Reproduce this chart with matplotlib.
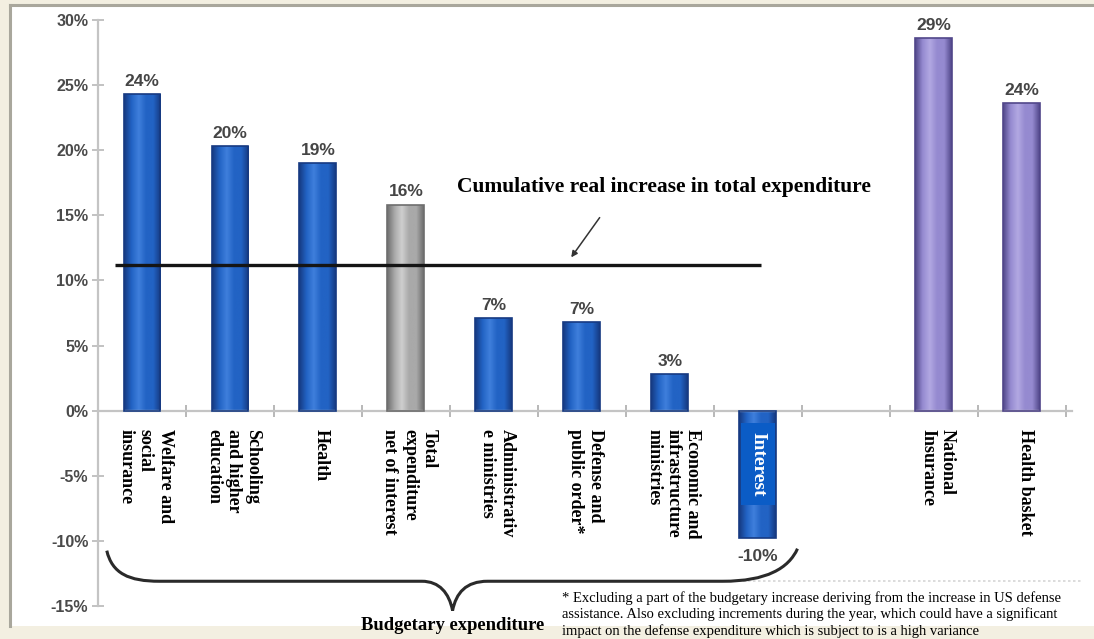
import numpy as np
import matplotlib
matplotlib.use("Agg")
import matplotlib.pyplot as plt
from matplotlib.patches import Rectangle, PathPatch
from matplotlib.path import Path
from matplotlib.colors import LinearSegmentedColormap

# ---- data -------------------------------------------------------------
categories = [
    "Welfare and\nsocial\ninsurance",
    "Schooling\nand higher\neducation",
    "Health",
    "Total\nexpenditure\nnet of interest",
    "Administrativ\ne ministries",
    "Defense and\npublic order*",
    "Economic and\ninfrastructure\nministries",
    "Interest",
    "National\nInsurance",
    "Health basket",
]
slots = [0, 1, 2, 3, 4, 5, 6, 7, 9, 10]
values = [24.3, 20.3, 19.0, 15.8, 7.1, 6.8, 2.8, -9.8, 28.6, 23.6]
groups = ["budget", "budget", "budget", "total", "budget", "budget",
          "budget", "budget", "health", "health"]
cumulative_increase = 11.2
y_ticks = [30, 25, 20, 15, 10, 5, 0, -5, -10, -15]

footnote = ("* Excluding a part of the budgetary increase deriving from the increase in US defense\n"
            "assistance. Also excluding increments during the year, which could have a significant\n"
            "impact on the defense expenditure which is subject to is a high variance")

# ---- styles -----------------------------------------------------------
palette = {
    "budget": ("#163a82", "#2263c4", "#3f7fdc"),
    "total": ("#6e6e6e", "#a9a9a9", "#cfcfcf"),
    "health": ("#51478a", "#958ad0", "#b2a8e2"),
}
serif = "Liberation Serif"
sans = "Liberation Sans"

W, H = 1094, 639
fig = plt.figure(figsize=(W / 100, H / 100), dpi=100)
fig.patch.set_facecolor("#f3efe1")

# white panel with thin grey frame
fig.patches.append(Rectangle((11 / W, 1 - 626 / H), (W - 11) / W, 621 / H,
                             transform=fig.transFigure, facecolor="white",
                             edgecolor="none", zorder=-10))
fig.lines.append(plt.Line2D([10 / W, 10 / W], [1 - 5 / H, 1 - 626 / H],
                            transform=fig.transFigure, color="#a9a79c", lw=2.2))
fig.lines.append(plt.Line2D([10 / W, 1], [1 - 5 / H, 1 - 5 / H],
                            transform=fig.transFigure, color="#a9a79c", lw=2.2))

ax = fig.add_axes([98 / W, 33 / H, (1072 - 98) / W, (606 - 20) / H])
ax.set_facecolor("none")

width = 0.42
bars = ax.bar(slots, values, width=width, color="none", zorder=3)
for bar, grp in zip(bars, groups):
    dark, mid, light = palette[grp]
    cmap = LinearSegmentedColormap.from_list(
        "g", [dark, mid, light, mid, mid, dark])
    x0, y0 = bar.get_x(), bar.get_y()
    w, h = bar.get_width(), bar.get_height()
    grad = np.linspace(0, 1, 64)[None, :]
    im = ax.imshow(grad, cmap=cmap, aspect="auto", zorder=2,
                   extent=[x0, x0 + w, min(y0, y0 + h), max(y0, y0 + h)])
    im.set_clip_path(bar)
    bar.set_edgecolor(dark)
    bar.set_linewidth(1.2)

# value labels
for s, v in zip(slots, values):
    txt = f"{round(v):.0f}%"
    if v >= 0:
        ax.annotate(txt, (s, v), xytext=(0, 4), textcoords="offset points",
                    ha="center", va="bottom", fontsize=12.5, family=sans,
                    weight="bold", color="#454545", zorder=6)
    else:
        ax.annotate(txt, (s, v), xytext=(0, -8), textcoords="offset points",
                    ha="center", va="top", fontsize=12.5, family=sans,
                    weight="bold", color="#454545", zorder=6)

# category labels, reading downward under the axis
for s, lab in zip(slots, categories):
    if lab == "Interest":
        ax.annotate(lab, (s, 0), xytext=(0, -15), textcoords="offset points",
                    rotation=270, ha="center", va="top", fontsize=14,
                    family=serif, weight="bold", color="white", zorder=7,
                    bbox=dict(boxstyle="square,pad=0.45", fc="#0b5cc6", ec="none"))
    else:
        ax.annotate(lab, (s, 0), xytext=(2.5, -13), textcoords="offset points",
                    rotation=270, ha="center", va="top", multialignment="left",
                    fontsize=13, family=serif, weight="bold", color="black",
                    linespacing=1.2, zorder=6)

# cumulative increase reference line
ax.plot([-0.31, 7.03], [cumulative_increase, cumulative_increase],
        color="#151515", lw=2.4, zorder=4, solid_capstyle="butt")
ax.annotate("", xy=(4.86, cumulative_increase + 0.4), xytext=(5.22, 15.0),
            arrowprops=dict(arrowstyle="-|>", color="#333333", lw=1.1,
                            mutation_scale=9), zorder=5)
ax.text(5.93, 17.2, "Cumulative real increase in total expenditure",
        ha="center", va="center", fontsize=15.5, family=serif, weight="bold")

# curly brace spanning the budget items
def brace(x_left, x_right, x_tip, y_top, y_mid, y_tip):
    verts = [
        (x_left, y_top),
        (x_left + 0.06, y_mid + 0.6), (x_left + 0.25, y_mid), (x_left + 0.6, y_mid),
        (x_tip - 0.35, y_mid),
        (x_tip - 0.15, y_mid), (x_tip - 0.04, y_mid - 0.9), (x_tip, y_tip),
        (x_tip + 0.04, y_mid - 0.9), (x_tip + 0.15, y_mid), (x_tip + 0.4, y_mid),
        (x_right - 0.85, y_mid),
        (x_right - 0.35, y_mid), (x_right - 0.1, y_mid + 1.0), (x_right, y_top + 0.15),
    ]
    codes = [Path.MOVETO,
             Path.CURVE4, Path.CURVE4, Path.CURVE4,
             Path.LINETO,
             Path.CURVE4, Path.CURVE4, Path.CURVE4,
             Path.CURVE4, Path.CURVE4, Path.CURVE4,
             Path.LINETO,
             Path.CURVE4, Path.CURVE4, Path.CURVE4]
    return PathPatch(Path(verts, codes), fill=False, ec="#2a2a2a", lw=2.2,
                     clip_on=False, zorder=5)

ax.add_patch(brace(-0.40, 7.45, 3.53, -10.75, -13.1, -15.35))

# faint dotted separator near the footnote
ax.plot([4.5, 10.7], [-13.05, -13.05], color="#d6d6d6", lw=1.2,
        ls=(0, (1.5, 1.5)), clip_on=False, zorder=1)

# axes styling
ax.set_xlim(-0.5, 10.57)
ax.set_ylim(-15, 30)
for side in ("top", "right"):
    ax.spines[side].set_visible(False)
ax.spines["bottom"].set_position(("data", 0))
ax.spines["bottom"].set_color("#c4c4c4")
ax.spines["bottom"].set_linewidth(1.6)
ax.spines["left"].set_color("#c4c4c4")
ax.spines["left"].set_linewidth(1.6)
ax.set_xticks(np.arange(-0.5, 10.6, 1.0))
ax.set_xticklabels([])
ax.tick_params(axis="x", direction="inout", length=9, width=1.4, color="#b8b8b8")
ax.set_yticks(y_ticks)
ax.set_yticklabels([f"{t}%" for t in y_ticks], family=sans, fontsize=11.5,
                   weight="bold", color="#4a4a4a")
ax.tick_params(axis="y", direction="inout", length=8, width=1.2,
               color="#b8b8b8", pad=3)

# captions below the chart
fig.text(453 / W, 1 - 625 / H, "Budgetary expenditure", ha="center",
         va="center", fontsize=13.4, family=serif, weight="bold")
fig.text(562 / W, 1 - 591 / H, footnote, ha="left", va="top", fontsize=10.5,
         family=serif, linespacing=1.25)

fig.savefig("out.png", dpi=100, facecolor=fig.get_facecolor())
